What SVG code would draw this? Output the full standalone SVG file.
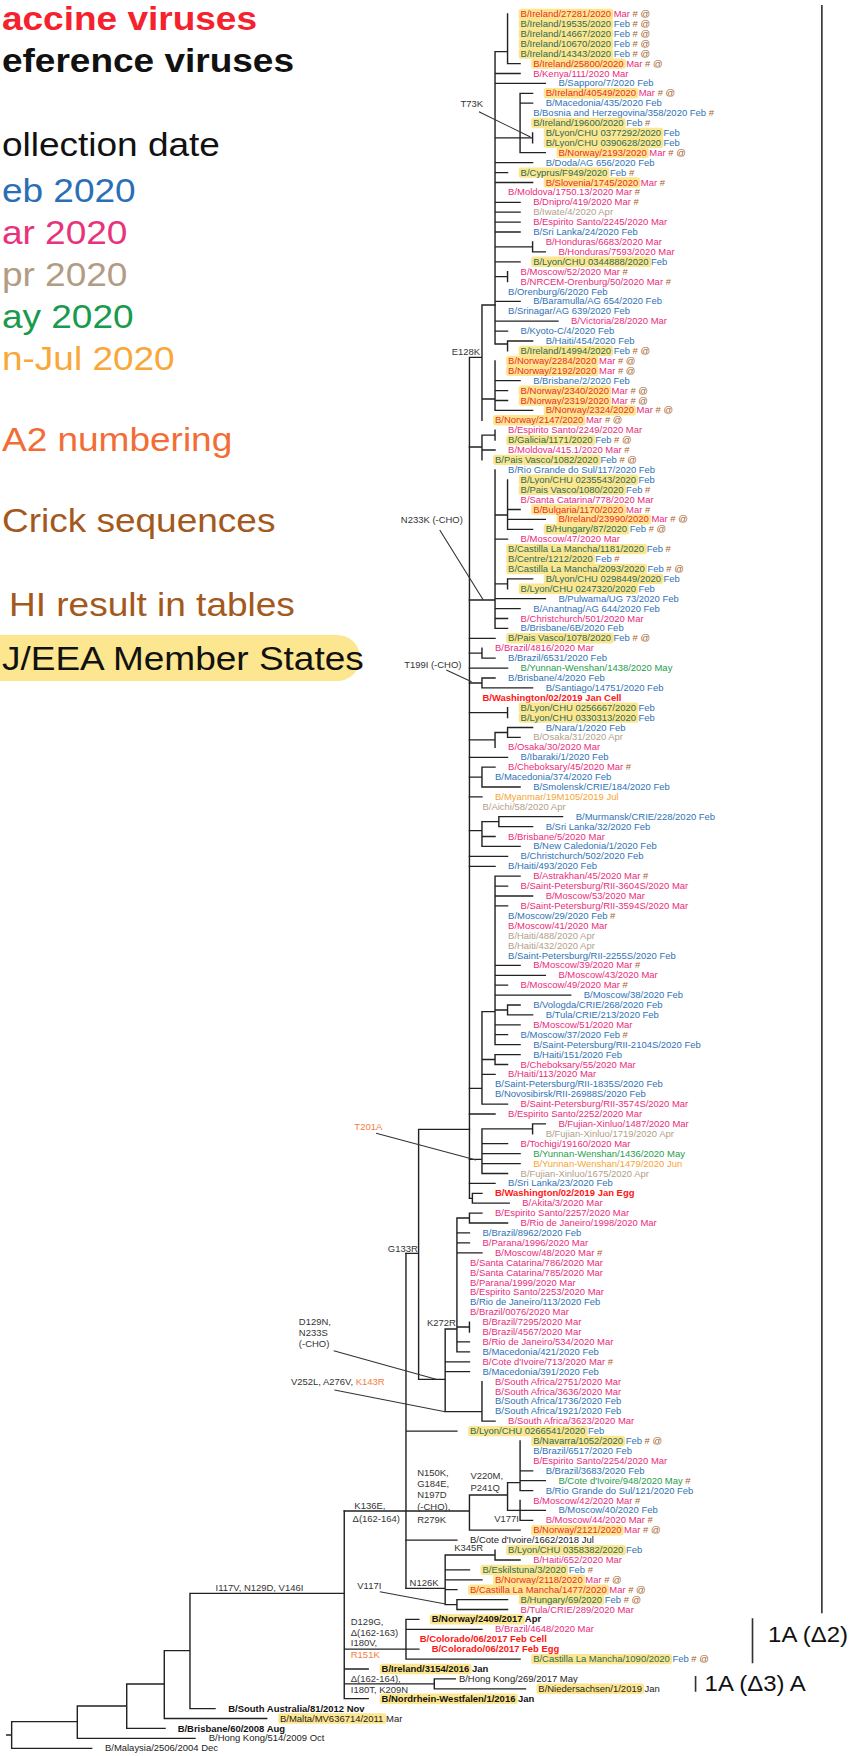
<svg xmlns="http://www.w3.org/2000/svg" width="849" height="1756" viewBox="0 0 849 1756">
<style>
text{font-family:"Liberation Sans",Arial,sans-serif}
.t{font-size:8.7px}
.feb{fill:#2f72b6}.mar{fill:#ec2a7c}.apr{fill:#b3a089}.may{fill:#1f9d4c}.jul{fill:#f6a534}
.blk{fill:#222}.bb{fill:#111;font-weight:bold}
.vac{fill:#ff1515;font-weight:bold}
.hf{fill:#2b6a58}.hm{fill:#ee2b2b}
.cr{fill:#a6611f}
.hl{fill:#fce68f}
.br{stroke:#222;stroke-width:1.3;fill:none;stroke-linecap:square}
.an{stroke:#333;stroke-width:1;fill:none}
.lab{fill:#333;font-size:8.7px}
.ha2{fill:#f47c42}
.leg{font-size:34px}
</style>
<rect width="849" height="1756" fill="#fff"/>

<g id="legend" transform="matrix(1.0887 0 0 1 0 0)">
<text class="leg" x="1.8" y="30" fill="#f5222d" font-weight="bold">accine viruses</text>
<text class="leg" x="1.8" y="72" fill="#111" font-weight="bold">eference viruses</text>
<text class="leg" x="1.8" y="156" fill="#111">ollection date</text>
<text class="leg" x="1.8" y="202" fill="#2a6fb5">eb 2020</text>
<text class="leg" x="1.8" y="244" fill="#e8327c">ar 2020</text>
<text class="leg" x="1.8" y="286" fill="#b29c84">pr 2020</text>
<text class="leg" x="1.8" y="328" fill="#1a9a4e">ay 2020</text>
<text class="leg" x="1.8" y="370" fill="#f8a838">n-Jul 2020</text>
<text class="leg" x="1.8" y="451" fill="#f26d35">A2 numbering</text>
<text class="leg" x="1.8" y="532" fill="#a3581c">Crick sequences</text>
<text class="leg" x="8.3" y="616" fill="#a3581c">HI result in tables</text>
<rect x="-27.6" y="635" width="358" height="46" rx="21" fill="#fce68f"/>
<text class="leg" x="1.8" y="670" fill="#111">J/EEA Member States</text>
</g>

<g id="tree" transform="matrix(1.0887 0 0 1 -24.82 0)">
<g id="connectors">
<path class="br" d="M489 14V63.6M489 63.6H500.5M477.5 51.7H489M477.5 51.7V344M477.5 73.5H500.5M477.5 83.4H523.7M477.5 137.9H512M500.5 93.3V152.7M500.5 93.3H512M500.5 103.2H512M512 132.9V142.8M500.5 152.7H523.7M477.5 162.7H512M477.5 172.6H489M477.5 182.5H512M477.5 202.3H500.5M477.5 212.2H500.5M477.5 222.1H500.5M477.5 232H500.5M477.5 246.9H512M512 241.9V251.8M512 251.8H523.7M477.5 261.8H500.5M477.5 276.6H489M489 271.7V281.6M477.5 301.4H500.5M477.5 321.2H535.3M477.5 331.1H489M477.5 344H489M489 341V350.9M489 341H512"/>
<path class="br" d="M465.5 305H477.5M465.5 305V420.3M465.5 399H477.5M477.5 360.9V410.4M477.5 380.7H500.5M477.5 390.6H489M477.5 400.5H489M477.5 410.4H512M454 357.3H465.5M454 357.3V1198.3"/>
<path class="br" d="M454 447H465.5M465.5 435.2V459.9M465.5 435.2H477.5M477.5 430.2V440.1M465.5 450H477.5M454 600H477.5M477.5 469.9V628.4M477.5 515H489M489 479.8V529.3M489 509.5H500.5M489 519.4H523.7M489 529.3H512M477.5 539.2H489M477.5 583.9H489M489 578.9V588.8M489 578.9H512M477.5 598.7H523.7M477.5 608.6H500.5M477.5 618.5H489M477.5 628.4H489M454 638.3H477.5M454 653.2H465.5M465.5 648.2V658.2M465.5 658.2H477.5M454 668.1H489M454 683H465.5M465.5 678V687.9M465.5 678H477.5M465.5 687.9H512M454 712.7H489M489 707.7V717.6M454 739.9H477.5M477.5 732.5V747.3M477.5 732.5H489M489 727.5V737.4M489 727.5H512M489 737.4H500.5M454 757.3H489M454 777.1H465.5M465.5 767.2V787M465.5 767.2H477.5M465.5 787H500.5M454 796.9H465.5"/>
<path class="br" d="M454 830.7H465.5M465.5 821.7V846.4M465.5 821.7H481M481 816.7V826.6M481 816.7H539.5M481 826.6H512M465.5 836.5H477.5M465.5 846.4H500.5M454 856.4H489M454 866.3H477.5M454 1088.3H465.5M465.5 1011.7V1104.1M465.5 1011.7H477.5M477.5 876.2V1044.6M477.5 876.2H500.5M477.5 886.1H489M477.5 896H512M477.5 905.9H489M477.5 965.4H500.5M477.5 975.3H523.7M477.5 985.2H489M477.5 995.1H547M477.5 1010H489M489 1005V1014.9M489 1005H500.5M489 1014.9H512M477.5 1024.8H500.5M477.5 1034.7H489M477.5 1044.6H500.5M465.5 1059.5H477.5M477.5 1054.6V1064.5M477.5 1054.6H500.5M477.5 1064.5H489M465.5 1074.4H477.5M465.5 1104.1H489M454 1114H477.5"/>
<path class="br" d="M454 1159.3H465.5M465.5 1128.9V1173.5M465.5 1128.9H512M512 1123.9V1133.8M512 1123.9H523.7M465.5 1143.7H489M465.5 1153.7H500.5M465.5 1163.6H500.5M465.5 1173.5H489M454 1183.4H477.5M454 1198.3H456.7M456.7 1193.3V1203.2M456.7 1193.3H465.5M456.7 1203.2H490.5M407.3 1129.3H454M407.3 1129.3V1379.3M395.7 1253.3H407.3"/>
<path class="br" d="M442.5 1218V1351.9M442.5 1218H454M454 1213.1V1223M454 1213.1H465.5M454 1223H489M442.5 1232.9H454M442.5 1242.8H454M442.5 1252.8H465.5M442.5 1327H454M454 1322.1V1332M442.5 1341.9H454M442.5 1351.9H454M431.7 1329H442.5M431.7 1329V1411.7M431.7 1361.8H454M431.7 1371.7H454M431.7 1411.7H465.5M465.5 1381.6V1421.2M465.5 1421.2H477.5M407.3 1379.3H431.7M395.7 1431.1H442.5M395.7 1253.3V1588.3"/>
<path class="br" d="M339 1511H454M454 1495V1530.2M454 1495H489M489 1482.7V1510.4M489 1482.7H500.5M500.5 1441V1490.6M500.5 1470.8H512M500.5 1480.7H523.7M500.5 1490.6H512M489 1510.4H523.7M500.5 1500.5V1520.3M500.5 1520.3H512M454 1530.2H500.5M395.7 1540.1H442.5M395.7 1588.3H431.7M431.7 1555V1604.6M431.7 1555H477.5M477.5 1550.1V1560M477.5 1560H500.5M431.7 1569.9H454M431.7 1579.8H465.5M431.7 1589.7H442.5M431.7 1604.6H442.5M442.5 1599.6V1609.5M442.5 1599.6H489M442.5 1609.5H489"/>
<path class="br" d="M339 1511V1698.7M339 1649.2H407.5M395.7 1619.4V1659.1M395.7 1619.4H407.5M395.7 1629.3H465.5M395.7 1659.1H500.5M339 1669H361M339 1683.8H421.7M421.7 1678.9V1688.8M421.7 1678.9H441M421.7 1688.8H505.5M339 1698.7H361"/>
<path class="an" d="M462.7 111.7L510 137M426.7 530L466.7 600M432.7 670L456 681.7M368.3 1133.3L460 1160M329.3 1350.7L423.3 1379.3M330 1390L431.7 1411.7M371.7 1591.7L432 1604"/>
<path stroke="#333" stroke-width="1.5" fill="none" d="M777.7 5V1613.3M714 1618.3V1663.3M661.7 1676V1691.7"/>
</g>

<g id="mutations">
<text class="lab" x="445.7" y="107.4">T73K</text>
<text class="lab" x="437.7" y="355.4">E128K</text>
<text class="lab" x="391" y="523.1">N233K (-CHO)</text>
<text class="lab" x="394" y="668.1">T199I (-CHO)</text>
<text class="lab ha2" x="348.3" y="1129.8">T201A</text>
<text class="lab" x="379" y="1251.6">G133R</text>
<text class="lab" x="415" y="1326.4">K272R</text>
<text class="lab" x="297.3" y="1325.4">D129N,</text>
<text class="lab" x="297.3" y="1336.4">N233S</text>
<text class="lab" x="297.3" y="1347.4">(-CHO)</text>
<text class="lab" x="290" y="1384.8">V252L, A276V, <tspan class="ha2">K143R</tspan></text>
<text class="lab" x="406" y="1476.4">N150K,</text>
<text class="lab" x="406" y="1487.4">G184E,</text>
<text class="lab" x="406" y="1498.1">N197D</text>
<text class="lab" x="406" y="1509.8">(-CHO),</text>
<text class="lab" x="406" y="1523.1">R279K</text>
<text class="lab" x="455" y="1479.1">V220M,</text>
<text class="lab" x="455" y="1491.4">P241Q</text>
<text class="lab" x="476.7" y="1522.4">V177I</text>
<text class="lab" x="348.3" y="1508.8">K136E,</text>
<text class="lab" x="346.7" y="1522.4">Δ(162-164)</text>
<text class="lab" x="440" y="1551.4">K345R</text>
<text class="lab" x="399" y="1586.4">N126K</text>
<text class="lab" x="351" y="1588.8">V117I</text>
<text class="lab" x="345" y="1624.8">D129G,</text>
<text class="lab" x="345" y="1635.8">Δ(162-163)</text>
<text class="lab" x="345" y="1646.4">I180V,</text>
<text class="lab ha2" x="345" y="1658.1">R151K</text>
<text class="lab" x="345" y="1682.1">Δ(162-164),</text>
<text class="lab" x="345" y="1693.1">I180T, K209N</text>
<text x="728.3" y="1642" font-size="22" fill="#111">1A (Δ2)</text>
<text x="670" y="1691" font-size="22" fill="#111">1A (Δ3) A</text>
</g>

<g id="leaves">
<g id="l0"><rect class="hl" x="499.2" y="8.8" width="86.8" height="10.4" rx="2.5"/><text class="t" x="501" y="17.1"><tspan class="hm">B/Ireland/27281/2020</tspan><tspan class="mar"> Mar</tspan><tspan class="cr"> # @</tspan></text></g>
<g id="l1"><rect class="hl" x="499.2" y="18.7" width="86.8" height="10.4" rx="2.5"/><text class="t" x="501" y="27"><tspan class="hf">B/Ireland/19535/2020</tspan><tspan class="feb"> Feb</tspan><tspan class="cr"> # @</tspan></text></g>
<g id="l2"><rect class="hl" x="499.2" y="28.6" width="86.8" height="10.4" rx="2.5"/><text class="t" x="501" y="36.9"><tspan class="hf">B/Ireland/14667/2020</tspan><tspan class="feb"> Feb</tspan><tspan class="cr"> # @</tspan></text></g>
<g id="l3"><rect class="hl" x="499.2" y="38.5" width="86.8" height="10.4" rx="2.5"/><text class="t" x="501" y="46.8"><tspan class="hf">B/Ireland/10670/2020</tspan><tspan class="feb"> Feb</tspan><tspan class="cr"> # @</tspan></text></g>
<g id="l4"><rect class="hl" x="499.2" y="48.4" width="86.8" height="10.4" rx="2.5"/><text class="t" x="501" y="56.7"><tspan class="hf">B/Ireland/14343/2020</tspan><tspan class="feb"> Feb</tspan><tspan class="cr"> # @</tspan></text></g>
<g id="l5"><rect class="hl" x="510.7" y="58.4" width="86.8" height="10.4" rx="2.5"/><text class="t" x="512.5" y="66.7"><tspan class="hm">B/Ireland/25800/2020</tspan><tspan class="mar"> Mar</tspan><tspan class="cr"> # @</tspan></text></g>
<g id="l6"><text class="t mar" x="512.5" y="76.6">B/Kenya/111/2020 Mar</text></g>
<g id="l7"><text class="t feb" x="535.7" y="86.5">B/Sapporo/7/2020 Feb</text></g>
<g id="l8"><rect class="hl" x="522.2" y="88.1" width="86.8" height="10.4" rx="2.5"/><text class="t" x="524" y="96.4"><tspan class="hm">B/Ireland/40549/2020</tspan><tspan class="mar"> Mar</tspan><tspan class="cr"> # @</tspan></text></g>
<g id="l9"><text class="t feb" x="524" y="106.3">B/Macedonia/435/2020 Feb</text></g>
<g id="l10"><text class="t" x="512.5" y="116.2"><tspan class="feb">B/Bosnia and Herzegovina/358/2020 Feb</tspan><tspan class="cr"> #</tspan></text></g>
<g id="l11"><rect class="hl" x="510.7" y="117.8" width="86.8" height="10.4" rx="2.5"/><text class="t" x="512.5" y="126.1"><tspan class="hf">B/Ireland/19600/2020</tspan><tspan class="feb"> Feb</tspan><tspan class="cr"> #</tspan></text></g>
<g id="l12"><rect class="hl" x="522.2" y="127.7" width="110" height="10.4" rx="2.5"/><text class="t" x="524" y="136"><tspan class="hf">B/Lyon/CHU 0377292/2020</tspan><tspan class="feb"> Feb</tspan></text></g>
<g id="l13"><rect class="hl" x="522.2" y="137.6" width="110" height="10.4" rx="2.5"/><text class="t" x="524" y="145.9"><tspan class="hf">B/Lyon/CHU 0390628/2020</tspan><tspan class="feb"> Feb</tspan></text></g>
<g id="l14"><rect class="hl" x="533.9" y="147.5" width="84.8" height="10.4" rx="2.5"/><text class="t" x="535.7" y="155.8"><tspan class="hm">B/Norway/2193/2020</tspan><tspan class="mar"> Mar</tspan><tspan class="cr"> # @</tspan></text></g>
<g id="l15"><text class="t feb" x="524" y="165.8">B/Doda/AG 656/2020 Feb</text></g>
<g id="l16"><rect class="hl" x="499.2" y="167.4" width="83.4" height="10.4" rx="2.5"/><text class="t" x="501" y="175.7"><tspan class="hf">B/Cyprus/F949/2020</tspan><tspan class="feb"> Feb</tspan><tspan class="cr"> #</tspan></text></g>
<g id="l17"><rect class="hl" x="522.2" y="177.3" width="88.7" height="10.4" rx="2.5"/><text class="t" x="524" y="185.6"><tspan class="hm">B/Slovenia/1745/2020</tspan><tspan class="mar"> Mar</tspan><tspan class="cr"> #</tspan></text></g>
<g id="l18"><text class="t" x="489.5" y="195.5"><tspan class="mar">B/Moldova/1750.13/2020 Mar</tspan><tspan class="cr"> #</tspan></text></g>
<g id="l19"><text class="t" x="512.5" y="205.4"><tspan class="mar">B/Dnipro/419/2020 Mar</tspan><tspan class="cr"> #</tspan></text></g>
<g id="l20"><text class="t apr" x="512.5" y="215.3">B/Iwate/4/2020 Apr</text></g>
<g id="l21"><text class="t mar" x="512.5" y="225.2">B/Espirito Santo/2245/2020 Mar</text></g>
<g id="l22"><text class="t feb" x="512.5" y="235.1">B/Sri Lanka/24/2020 Feb</text></g>
<g id="l23"><text class="t mar" x="524" y="245">B/Honduras/6683/2020 Mar</text></g>
<g id="l24"><text class="t mar" x="535.7" y="254.9">B/Honduras/7593/2020 Mar</text></g>
<g id="l25"><rect class="hl" x="510.7" y="256.6" width="110" height="10.4" rx="2.5"/><text class="t" x="512.5" y="264.9"><tspan class="hf">B/Lyon/CHU 0344888/2020</tspan><tspan class="feb"> Feb</tspan></text></g>
<g id="l26"><text class="t" x="501" y="274.8"><tspan class="mar">B/Moscow/52/2020 Mar</tspan><tspan class="cr"> #</tspan></text></g>
<g id="l27"><text class="t" x="501" y="284.7"><tspan class="mar">B/NRCEM-Orenburg/50/2020 Mar</tspan><tspan class="cr"> #</tspan></text></g>
<g id="l28"><text class="t feb" x="489.5" y="294.6">B/Orenburg/6/2020 Feb</text></g>
<g id="l29"><text class="t feb" x="512.5" y="304.5">B/Baramulla/AG 654/2020 Feb</text></g>
<g id="l30"><text class="t feb" x="489.5" y="314.4">B/Srinagar/AG 639/2020 Feb</text></g>
<g id="l31"><text class="t mar" x="547.3" y="324.3">B/Victoria/28/2020 Mar</text></g>
<g id="l32"><text class="t feb" x="501" y="334.2">B/Kyoto-C/4/2020 Feb</text></g>
<g id="l33"><text class="t feb" x="524" y="344.1">B/Haiti/454/2020 Feb</text></g>
<g id="l34"><rect class="hl" x="499.2" y="345.7" width="86.8" height="10.4" rx="2.5"/><text class="t" x="501" y="354"><tspan class="hf">B/Ireland/14994/2020</tspan><tspan class="feb"> Feb</tspan><tspan class="cr"> # @</tspan></text></g>
<g id="l35"><rect class="hl" x="487.7" y="355.7" width="84.8" height="10.4" rx="2.5"/><text class="t" x="489.5" y="364"><tspan class="hm">B/Norway/2284/2020</tspan><tspan class="mar"> Mar</tspan><tspan class="cr"> # @</tspan></text></g>
<g id="l36"><rect class="hl" x="487.7" y="365.6" width="84.8" height="10.4" rx="2.5"/><text class="t" x="489.5" y="373.9"><tspan class="hm">B/Norway/2192/2020</tspan><tspan class="mar"> Mar</tspan><tspan class="cr"> # @</tspan></text></g>
<g id="l37"><text class="t feb" x="512.5" y="383.8">B/Brisbane/2/2020 Feb</text></g>
<g id="l38"><rect class="hl" x="499.2" y="385.4" width="84.8" height="10.4" rx="2.5"/><text class="t" x="501" y="393.7"><tspan class="hm">B/Norway/2340/2020</tspan><tspan class="mar"> Mar</tspan><tspan class="cr"> # @</tspan></text></g>
<g id="l39"><rect class="hl" x="499.2" y="395.3" width="84.8" height="10.4" rx="2.5"/><text class="t" x="501" y="403.6"><tspan class="hm">B/Norway/2319/2020</tspan><tspan class="mar"> Mar</tspan><tspan class="cr"> # @</tspan></text></g>
<g id="l40"><rect class="hl" x="522.2" y="405.2" width="84.8" height="10.4" rx="2.5"/><text class="t" x="524" y="413.5"><tspan class="hm">B/Norway/2324/2020</tspan><tspan class="mar"> Mar</tspan><tspan class="cr"> # @</tspan></text></g>
<g id="l41"><rect class="hl" x="475.7" y="415.1" width="84.8" height="10.4" rx="2.5"/><text class="t" x="477.5" y="423.4"><tspan class="hm">B/Norway/2147/2020</tspan><tspan class="mar"> Mar</tspan><tspan class="cr"> # @</tspan></text></g>
<g id="l42"><text class="t mar" x="489.5" y="433.3">B/Espirito Santo/2249/2020 Mar</text></g>
<g id="l43"><rect class="hl" x="487.7" y="434.9" width="81.9" height="10.4" rx="2.5"/><text class="t" x="489.5" y="443.2"><tspan class="hf">B/Galicia/1171/2020</tspan><tspan class="feb"> Feb</tspan><tspan class="cr"> # @</tspan></text></g>
<g id="l44"><text class="t" x="489.5" y="453.1"><tspan class="mar">B/Moldova/415.1/2020 Mar</tspan><tspan class="cr"> #</tspan></text></g>
<g id="l45"><rect class="hl" x="475.7" y="454.7" width="98.9" height="10.4" rx="2.5"/><text class="t" x="477.5" y="463"><tspan class="hf">B/Pais Vasco/1082/2020</tspan><tspan class="feb"> Feb</tspan><tspan class="cr"> # @</tspan></text></g>
<g id="l46"><text class="t feb" x="489.5" y="473">B/Rio Grande do Sul/117/2020 Feb</text></g>
<g id="l47"><rect class="hl" x="499.2" y="474.6" width="110" height="10.4" rx="2.5"/><text class="t" x="501" y="482.9"><tspan class="hf">B/Lyon/CHU 0235543/2020</tspan><tspan class="feb"> Feb</tspan></text></g>
<g id="l48"><rect class="hl" x="499.2" y="484.5" width="98.9" height="10.4" rx="2.5"/><text class="t" x="501" y="492.8"><tspan class="hf">B/Pais Vasco/1080/2020</tspan><tspan class="feb"> Feb</tspan><tspan class="cr"> #</tspan></text></g>
<g id="l49"><text class="t mar" x="501" y="502.7">B/Santa Catarina/778/2020 Mar</text></g>
<g id="l50"><rect class="hl" x="510.7" y="504.3" width="87.3" height="10.4" rx="2.5"/><text class="t" x="512.5" y="512.6"><tspan class="hm">B/Bulgaria/1170/2020</tspan><tspan class="mar"> Mar</tspan><tspan class="cr"> #</tspan></text></g>
<g id="l51"><rect class="hl" x="533.9" y="514.2" width="86.8" height="10.4" rx="2.5"/><text class="t" x="535.7" y="522.5"><tspan class="hm">B/Ireland/23990/2020</tspan><tspan class="mar"> Mar</tspan><tspan class="cr"> # @</tspan></text></g>
<g id="l52"><rect class="hl" x="522.2" y="524.1" width="78.6" height="10.4" rx="2.5"/><text class="t" x="524" y="532.4"><tspan class="hf">B/Hungary/87/2020</tspan><tspan class="feb"> Feb</tspan><tspan class="cr"> # @</tspan></text></g>
<g id="l53"><text class="t mar" x="501" y="542.3">B/Moscow/47/2020 Mar</text></g>
<g id="l54"><rect class="hl" x="487.7" y="543.9" width="129.3" height="10.4" rx="2.5"/><text class="t" x="489.5" y="552.2"><tspan class="hf">B/Castilla La Mancha/1181/2020</tspan><tspan class="feb"> Feb</tspan><tspan class="cr"> #</tspan></text></g>
<g id="l55"><rect class="hl" x="487.7" y="553.9" width="81.5" height="10.4" rx="2.5"/><text class="t" x="489.5" y="562.2"><tspan class="hf">B/Centre/1212/2020</tspan><tspan class="feb"> Feb</tspan><tspan class="cr"> #</tspan></text></g>
<g id="l56"><rect class="hl" x="487.7" y="563.8" width="129.3" height="10.4" rx="2.5"/><text class="t" x="489.5" y="572.1"><tspan class="hf">B/Castilla La Mancha/2093/2020</tspan><tspan class="feb"> Feb</tspan><tspan class="cr"> # @</tspan></text></g>
<g id="l57"><rect class="hl" x="522.2" y="573.7" width="110" height="10.4" rx="2.5"/><text class="t" x="524" y="582"><tspan class="hf">B/Lyon/CHU 0298449/2020</tspan><tspan class="feb"> Feb</tspan></text></g>
<g id="l58"><rect class="hl" x="499.2" y="583.6" width="110" height="10.4" rx="2.5"/><text class="t" x="501" y="591.9"><tspan class="hf">B/Lyon/CHU 0247320/2020</tspan><tspan class="feb"> Feb</tspan></text></g>
<g id="l59"><text class="t feb" x="535.7" y="601.8">B/Pulwama/UG 73/2020 Feb</text></g>
<g id="l60"><text class="t feb" x="512.5" y="611.7">B/Anantnag/AG 644/2020 Feb</text></g>
<g id="l61"><text class="t mar" x="501" y="621.6">B/Christchurch/501/2020 Mar</text></g>
<g id="l62"><text class="t feb" x="501" y="631.5">B/Brisbane/6B/2020 Feb</text></g>
<g id="l63"><rect class="hl" x="487.7" y="633.1" width="98.9" height="10.4" rx="2.5"/><text class="t" x="489.5" y="641.4"><tspan class="hf">B/Pais Vasco/1078/2020</tspan><tspan class="feb"> Feb</tspan><tspan class="cr"> # @</tspan></text></g>
<g id="l64"><text class="t mar" x="477.5" y="651.3">B/Brazil/4816/2020 Mar</text></g>
<g id="l65"><text class="t feb" x="489.5" y="661.3">B/Brazil/6531/2020 Feb</text></g>
<g id="l66"><text class="t may" x="501" y="671.2">B/Yunnan-Wenshan/1438/2020 May</text></g>
<g id="l67"><text class="t feb" x="489.5" y="681.1">B/Brisbane/4/2020 Feb</text></g>
<g id="l68"><text class="t feb" x="524" y="691">B/Santiago/14751/2020 Feb</text></g>
<g id="l69"><text class="t vac" x="466" y="700.9">B/Washington/02/2019 Jan Cell</text></g>
<g id="l70"><rect class="hl" x="499.2" y="702.5" width="110" height="10.4" rx="2.5"/><text class="t" x="501" y="710.8"><tspan class="hf">B/Lyon/CHU 0256667/2020</tspan><tspan class="feb"> Feb</tspan></text></g>
<g id="l71"><rect class="hl" x="499.2" y="712.4" width="110" height="10.4" rx="2.5"/><text class="t" x="501" y="720.7"><tspan class="hf">B/Lyon/CHU 0330313/2020</tspan><tspan class="feb"> Feb</tspan></text></g>
<g id="l72"><text class="t feb" x="524" y="730.6">B/Nara/1/2020 Feb</text></g>
<g id="l73"><text class="t apr" x="512.5" y="740.5">B/Osaka/31/2020 Apr</text></g>
<g id="l74"><text class="t mar" x="489.5" y="750.4">B/Osaka/30/2020 Mar</text></g>
<g id="l75"><text class="t feb" x="501" y="760.4">B/Ibaraki/1/2020 Feb</text></g>
<g id="l76"><text class="t" x="489.5" y="770.3"><tspan class="mar">B/Cheboksary/45/2020 Mar</tspan><tspan class="cr"> #</tspan></text></g>
<g id="l77"><text class="t feb" x="477.5" y="780.2">B/Macedonia/374/2020 Feb</text></g>
<g id="l78"><text class="t feb" x="512.5" y="790.1">B/Smolensk/CRIE/184/2020 Feb</text></g>
<g id="l79"><text class="t jul" x="477.5" y="800">B/Myanmar/19M105/2019 Jul</text></g>
<g id="l80"><text class="t apr" x="466" y="809.9">B/Aichi/58/2020 Apr</text></g>
<g id="l81"><text class="t feb" x="551.7" y="819.8">B/Murmansk/CRIE/228/2020 Feb</text></g>
<g id="l82"><text class="t feb" x="524" y="829.7">B/Sri Lanka/32/2020 Feb</text></g>
<g id="l83"><text class="t mar" x="489.5" y="839.6">B/Brisbane/5/2020 Mar</text></g>
<g id="l84"><text class="t feb" x="512.5" y="849.5">B/New Caledonia/1/2020 Feb</text></g>
<g id="l85"><text class="t feb" x="501" y="859.5">B/Christchurch/502/2020 Feb</text></g>
<g id="l86"><text class="t feb" x="489.5" y="869.4">B/Haiti/493/2020 Feb</text></g>
<g id="l87"><text class="t" x="512.5" y="879.3"><tspan class="mar">B/Astrakhan/45/2020 Mar</tspan><tspan class="cr"> #</tspan></text></g>
<g id="l88"><text class="t mar" x="501" y="889.2">B/Saint-Petersburg/RII-3604S/2020 Mar</text></g>
<g id="l89"><text class="t mar" x="524" y="899.1">B/Moscow/53/2020 Mar</text></g>
<g id="l90"><text class="t mar" x="501" y="909">B/Saint-Petersburg/RII-3594S/2020 Mar</text></g>
<g id="l91"><text class="t" x="489.5" y="918.9"><tspan class="feb">B/Moscow/29/2020 Feb</tspan><tspan class="cr"> #</tspan></text></g>
<g id="l92"><text class="t mar" x="489.5" y="928.8">B/Moscow/41/2020 Mar</text></g>
<g id="l93"><text class="t apr" x="489.5" y="938.7">B/Haiti/488/2020 Apr</text></g>
<g id="l94"><text class="t apr" x="489.5" y="948.6">B/Haiti/432/2020 Apr</text></g>
<g id="l95"><text class="t feb" x="489.5" y="958.6">B/Saint-Petersburg/RII-2255S/2020 Feb</text></g>
<g id="l96"><text class="t" x="512.5" y="968.5"><tspan class="mar">B/Moscow/39/2020 Mar</tspan><tspan class="cr"> #</tspan></text></g>
<g id="l97"><text class="t mar" x="535.7" y="978.4">B/Moscow/43/2020 Mar</text></g>
<g id="l98"><text class="t" x="501" y="988.3"><tspan class="mar">B/Moscow/49/2020 Mar</tspan><tspan class="cr"> #</tspan></text></g>
<g id="l99"><text class="t feb" x="559" y="998.2">B/Moscow/38/2020 Feb</text></g>
<g id="l100"><text class="t feb" x="512.5" y="1008.1">B/Vologda/CRIE/268/2020 Feb</text></g>
<g id="l101"><text class="t feb" x="524" y="1018">B/Tula/CRIE/213/2020 Feb</text></g>
<g id="l102"><text class="t mar" x="512.5" y="1027.9">B/Moscow/51/2020 Mar</text></g>
<g id="l103"><text class="t" x="501" y="1037.8"><tspan class="feb">B/Moscow/37/2020 Feb</tspan><tspan class="cr"> #</tspan></text></g>
<g id="l104"><text class="t feb" x="512.5" y="1047.7">B/Saint-Petersburg/RII-2104S/2020 Feb</text></g>
<g id="l105"><text class="t feb" x="512.5" y="1057.7">B/Haiti/151/2020 Feb</text></g>
<g id="l106"><text class="t mar" x="501" y="1067.6">B/Cheboksary/55/2020 Mar</text></g>
<g id="l107"><text class="t mar" x="489.5" y="1077.5">B/Haiti/113/2020 Mar</text></g>
<g id="l108"><text class="t feb" x="477.5" y="1087.4">B/Saint-Petersburg/RII-1835S/2020 Feb</text></g>
<g id="l109"><text class="t feb" x="477.5" y="1097.3">B/Novosibirsk/RII-26988S/2020 Feb</text></g>
<g id="l110"><text class="t mar" x="501" y="1107.2">B/Saint-Petersburg/RII-3574S/2020 Mar</text></g>
<g id="l111"><text class="t mar" x="489.5" y="1117.1">B/Espirito Santo/2252/2020 Mar</text></g>
<g id="l112"><text class="t mar" x="535.7" y="1127">B/Fujian-Xinluo/1487/2020 Mar</text></g>
<g id="l113"><text class="t apr" x="524" y="1136.9">B/Fujian-Xinluo/1719/2020 Apr</text></g>
<g id="l114"><text class="t mar" x="501" y="1146.8">B/Tochigi/19160/2020 Mar</text></g>
<g id="l115"><text class="t may" x="512.5" y="1156.8">B/Yunnan-Wenshan/1436/2020 May</text></g>
<g id="l116"><text class="t jul" x="512.5" y="1166.7">B/Yunnan-Wenshan/1479/2020 Jun</text></g>
<g id="l117"><text class="t apr" x="501" y="1176.6">B/Fujian-Xinluo/1675/2020 Apr</text></g>
<g id="l118"><text class="t feb" x="489.5" y="1186.5">B/Sri Lanka/23/2020 Feb</text></g>
<g id="l119"><text class="t vac" x="477.5" y="1196.4">B/Washington/02/2019 Jan Egg</text></g>
<g id="l120"><text class="t mar" x="502.5" y="1206.3">B/Akita/3/2020 Mar</text></g>
<g id="l121"><text class="t mar" x="477.5" y="1216.2">B/Espirito Santo/2257/2020 Mar</text></g>
<g id="l122"><text class="t mar" x="501" y="1226.1">B/Rio de Janeiro/1998/2020 Mar</text></g>
<g id="l123"><text class="t feb" x="466" y="1236">B/Brazil/8962/2020 Feb</text></g>
<g id="l124"><text class="t mar" x="466" y="1245.9">B/Parana/1996/2020 Mar</text></g>
<g id="l125"><text class="t" x="477.5" y="1255.9"><tspan class="mar">B/Moscow/48/2020 Mar</tspan><tspan class="cr"> #</tspan></text></g>
<g id="l126"><text class="t mar" x="454.5" y="1265.8">B/Santa Catarina/786/2020 Mar</text></g>
<g id="l127"><text class="t mar" x="454.5" y="1275.7">B/Santa Catarina/785/2020 Mar</text></g>
<g id="l128"><text class="t mar" x="454.5" y="1285.6">B/Parana/1999/2020 Mar</text></g>
<g id="l129"><text class="t mar" x="454.5" y="1295.5">B/Espirito Santo/2253/2020 Mar</text></g>
<g id="l130"><text class="t feb" x="454.5" y="1305.4">B/Rio de Janeiro/113/2020 Feb</text></g>
<g id="l131"><text class="t mar" x="454.5" y="1315.3">B/Brazil/0076/2020 Mar</text></g>
<g id="l132"><text class="t mar" x="466" y="1325.2">B/Brazil/7295/2020 Mar</text></g>
<g id="l133"><text class="t mar" x="466" y="1335.1">B/Brazil/4567/2020 Mar</text></g>
<g id="l134"><text class="t mar" x="466" y="1345">B/Rio de Janeiro/534/2020 Mar</text></g>
<g id="l135"><text class="t feb" x="466" y="1355">B/Macedonia/421/2020 Feb</text></g>
<g id="l136"><text class="t" x="466" y="1364.9"><tspan class="mar">B/Cote d'Ivoire/713/2020 Mar</tspan><tspan class="cr"> #</tspan></text></g>
<g id="l137"><text class="t feb" x="466" y="1374.8">B/Macedonia/391/2020 Feb</text></g>
<g id="l138"><text class="t mar" x="477.5" y="1384.7">B/South Africa/2751/2020 Mar</text></g>
<g id="l139"><text class="t mar" x="477.5" y="1394.6">B/South Africa/3636/2020 Mar</text></g>
<g id="l140"><text class="t feb" x="477.5" y="1404.5">B/South Africa/1736/2020 Feb</text></g>
<g id="l141"><text class="t feb" x="477.5" y="1414.4">B/South Africa/1921/2020 Feb</text></g>
<g id="l142"><text class="t mar" x="489.5" y="1424.3">B/South Africa/3623/2020 Mar</text></g>
<g id="l143"><rect class="hl" x="452.7" y="1425.9" width="110" height="10.4" rx="2.5"/><text class="t" x="454.5" y="1434.2"><tspan class="hf">B/Lyon/CHU 0266541/2020</tspan><tspan class="feb"> Feb</tspan></text></g>
<g id="l144"><rect class="hl" x="510.7" y="1435.8" width="86.3" height="10.4" rx="2.5"/><text class="t" x="512.5" y="1444.1"><tspan class="hf">B/Navarra/1052/2020</tspan><tspan class="feb"> Feb</tspan><tspan class="cr"> # @</tspan></text></g>
<g id="l145"><text class="t feb" x="512.5" y="1454.1">B/Brazil/6517/2020 Feb</text></g>
<g id="l146"><text class="t mar" x="512.5" y="1464">B/Espirito Santo/2254/2020 Mar</text></g>
<g id="l147"><text class="t feb" x="524" y="1473.9">B/Brazil/3683/2020 Feb</text></g>
<g id="l148"><text class="t" x="535.7" y="1483.8"><tspan class="may">B/Cote d'Ivoire/948/2020 May</tspan><tspan class="cr"> #</tspan></text></g>
<g id="l149"><text class="t feb" x="524" y="1493.7">B/Rio Grande do Sul/121/2020 Feb</text></g>
<g id="l150"><text class="t" x="512.5" y="1503.6"><tspan class="mar">B/Moscow/42/2020 Mar</tspan><tspan class="cr"> #</tspan></text></g>
<g id="l151"><text class="t feb" x="535.7" y="1513.5">B/Moscow/40/2020 Feb</text></g>
<g id="l152"><text class="t" x="524" y="1523.4"><tspan class="mar">B/Moscow/44/2020 Mar</tspan><tspan class="cr"> #</tspan></text></g>
<g id="l153"><rect class="hl" x="510.7" y="1525" width="84.8" height="10.4" rx="2.5"/><text class="t" x="512.5" y="1533.3"><tspan class="hm">B/Norway/2121/2020</tspan><tspan class="mar"> Mar</tspan><tspan class="cr"> # @</tspan></text></g>
<g id="l154"><text class="t blk" x="454.5" y="1543.2">B/Cote d'Ivoire/1662/2018 Jul</text></g>
<g id="l155"><rect class="hl" x="487.7" y="1544.9" width="110" height="10.4" rx="2.5"/><text class="t" x="489.5" y="1553.2"><tspan class="hf">B/Lyon/CHU 0358382/2020</tspan><tspan class="feb"> Feb</tspan></text></g>
<g id="l156"><text class="t mar" x="512.5" y="1563.1">B/Haiti/652/2020 Mar</text></g>
<g id="l157"><rect class="hl" x="464.2" y="1564.7" width="80.5" height="10.4" rx="2.5"/><text class="t" x="466" y="1573"><tspan class="hf">B/Eskilstuna/3/2020</tspan><tspan class="feb"> Feb</tspan><tspan class="cr"> #</tspan></text></g>
<g id="l158"><rect class="hl" x="475.7" y="1574.6" width="84.8" height="10.4" rx="2.5"/><text class="t" x="477.5" y="1582.9"><tspan class="hm">B/Norway/2118/2020</tspan><tspan class="mar"> Mar</tspan><tspan class="cr"> # @</tspan></text></g>
<g id="l159"><rect class="hl" x="452.7" y="1584.5" width="129.3" height="10.4" rx="2.5"/><text class="t" x="454.5" y="1592.8"><tspan class="hm">B/Castilla La Mancha/1477/2020</tspan><tspan class="mar"> Mar</tspan><tspan class="cr"> # @</tspan></text></g>
<g id="l160"><rect class="hl" x="499.2" y="1594.4" width="78.6" height="10.4" rx="2.5"/><text class="t" x="501" y="1602.7"><tspan class="hf">B/Hungary/69/2020</tspan><tspan class="feb"> Feb</tspan><tspan class="cr"> # @</tspan></text></g>
<g id="l161"><text class="t mar" x="501" y="1612.6">B/Tula/CRIE/289/2020 Mar</text></g>
<g id="l162"><rect class="hl" x="417.5" y="1614.2" width="87.3" height="10.4" rx="2.5"/><text class="t bb" x="419.3" y="1622.5">B/Norway/2409/2017 Apr</text></g>
<g id="l163"><text class="t mar" x="477.5" y="1632.4">B/Brazil/4648/2020 Mar</text></g>
<g id="l164"><text class="t vac" x="408.3" y="1642.3">B/Colorado/06/2017 Feb Cell</text></g>
<g id="l165"><text class="t vac" x="419.3" y="1652.3">B/Colorado/06/2017 Feb Egg</text></g>
<g id="l166"><rect class="hl" x="510.7" y="1653.9" width="129.3" height="10.4" rx="2.5"/><text class="t" x="512.5" y="1662.2"><tspan class="hf">B/Castilla La Mancha/1090/2020</tspan><tspan class="feb"> Feb</tspan><tspan class="cr"> # @</tspan></text></g>
<g id="l167"><rect class="hl" x="371.5" y="1663.8" width="84.4" height="10.4" rx="2.5"/><text class="t bb" x="373.3" y="1672.1">B/Ireland/3154/2016 Jan</text></g>
<g id="l168"><text class="t blk" x="444.3" y="1682">B/Hong Kong/269/2017 May</text></g>
<g id="l169"><rect class="hl" x="515.5" y="1683.6" width="98.9" height="10.4" rx="2.5"/><text class="t blk" x="517.3" y="1691.9">B/Niedersachsen/1/2019 Jan</text></g>
<g id="l170"><rect class="hl" x="371.5" y="1693.5" width="126.9" height="10.4" rx="2.5"/><text class="t bb" x="373.3" y="1701.8">B/Nordrhein-Westfalen/1/2016 Jan</text></g>
</g>
</g>

<g id="base" transform="matrix(1.0887 0 0 1 0 0)">
<g id="connectors-base">
<path class="br" d="M174.5 1593.3H316.2M174.5 1593.3V1708.6M174.5 1708.6H197.5M150.9 1650.7H174.5M150.9 1650.7V1718.5M150.9 1718.5H245M116.4 1684H150.9M116.4 1684V1728.4M116.4 1728.4H151.6M71 1706H116.4M71 1706V1738.3M71 1738.3H179.1M10.7 1721.7H71M10.7 1721.7V1748.3M10.7 1748.3H84.2M6.2 1735H10.7"/>
</g>
<text class="lab" x="198" y="1591">I117V, N129D, V146I</text>
<g id="l171"><text class="t bb" x="209.7" y="1711.7">B/South Australia/81/2012 Nov</text></g>
<g id="l172"><rect class="hl" x="255.5" y="1713.3" width="99.4" height="10.4" rx="2.5"/><text class="t blk" x="257.2" y="1721.6">B/Malta/MV636714/2011 Mar</text></g>
<g id="l173"><text class="t bb" x="163.2" y="1731.5">B/Brisbane/60/2008 Aug</text></g>
<g id="l174"><text class="t blk" x="191.7" y="1741.4">B/Hong Kong/514/2009 Oct</text></g>
<g id="l175"><text class="t blk" x="96.4" y="1751.4">B/Malaysia/2506/2004 Dec</text></g>
</g>
</svg>
